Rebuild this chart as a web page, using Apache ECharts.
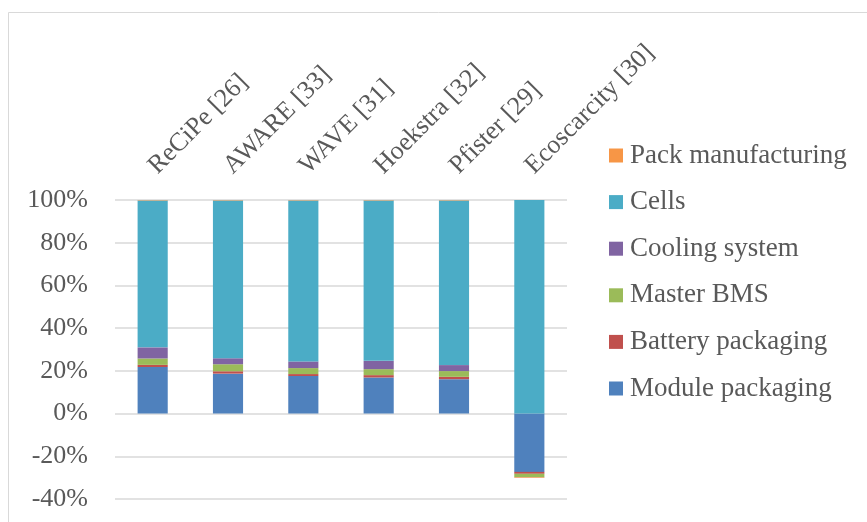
<!DOCTYPE html>
<html>
<head>
<meta charset="utf-8">
<script src="https://cdn.jsdelivr.net/npm/echarts@6/dist/echarts.min.js"></script>
<style>
html,body{margin:0;padding:0;background:#fff;}
#chart{width:867px;height:522px;}
</style>
</head>
<body>
<div id="chart"></div>
<script>
var categories = ['ReCiPe [26]', 'AWARE [33]', 'WAVE [31]', 'Hoekstra [32]', 'Pfister [29]', 'Ecoscarcity [30]'];
var modulePackaging = [21.8, 18.7, 17.6, 16.9, 16.1, -27.3];
var batteryPackaging = [1.0, 1.1, 0.9, 1.1, 1.1, -0.9];
var masterBMS = [3.0, 3.3, 2.8, 2.8, 2.7, -1.5];
var coolingSystem = [5.2, 2.8, 3.1, 3.9, 2.8, -0.1];
var cells = [68.8, 73.9, 75.4, 75.1, 77.1, 100];
var packManufacturing = [0.2, 0.2, 0.2, 0.2, 0.2, -0.3];
var legendOrder = ['Pack manufacturing', 'Cells', 'Cooling system', 'Master BMS', 'Battery packaging', 'Module packaging'];

var FONT = "'Liberation Serif', 'Times New Roman', serif";
var TXT = '#595959';

var chart = echarts.init(document.getElementById('chart'));
function s(name, data, color) {
  return {
    name: name, type: 'bar', stack: 'total', data: data, barWidth: '40%',
    itemStyle: { color: color }
  };
}
chart.setOption({
  animation: false,
  backgroundColor: '#fff',
  textStyle: { fontFamily: FONT },
  graphic: [{
    type: 'rect', shape: { x: 8.5, y: 12.5, width: 900, height: 600 },
    style: { fill: 'none', stroke: '#d9d9d9', lineWidth: 1 }, silent: true
  }],
  grid: { left: 115, right: 300, top: 200, bottom: 23 },
  legend: {
    orient: 'vertical', left: 609, top: 142, padding: 0,
    data: legendOrder,
    itemWidth: 14, itemHeight: 14, itemGap: 19.6,
    icon: 'rect',
    textStyle: { fontFamily: FONT, fontSize: 27, color: TXT, lineHeight: 27, padding: [0, 0, 0, 2] }
  },
  xAxis: {
    type: 'category', position: 'top', data: categories,
    axisLine: { show: false }, axisTick: { show: false },
    axisLabel: { rotate: 45, margin: 30, interval: 0, fontFamily: FONT, fontSize: 26, color: TXT }
  },
  yAxis: {
    type: 'value', min: -40, max: 100, interval: 20,
    axisLine: { show: false }, axisTick: { show: false },
    splitLine: { lineStyle: { color: '#d9d9d9', width: 1.5 } },
    axisLabel: { formatter: '{value}%', margin: 27, fontFamily: FONT, fontSize: 26, color: TXT }
  },
  series: [
    s('Module packaging', modulePackaging, '#4F81BD'),
    s('Battery packaging', batteryPackaging, '#C0504D'),
    s('Master BMS', masterBMS, '#9BBB59'),
    s('Cooling system', coolingSystem, '#8064A2'),
    s('Cells', cells, '#4BACC6'),
    s('Pack manufacturing', packManufacturing, '#F79646')
  ]
});
</script>
</body>
</html>
